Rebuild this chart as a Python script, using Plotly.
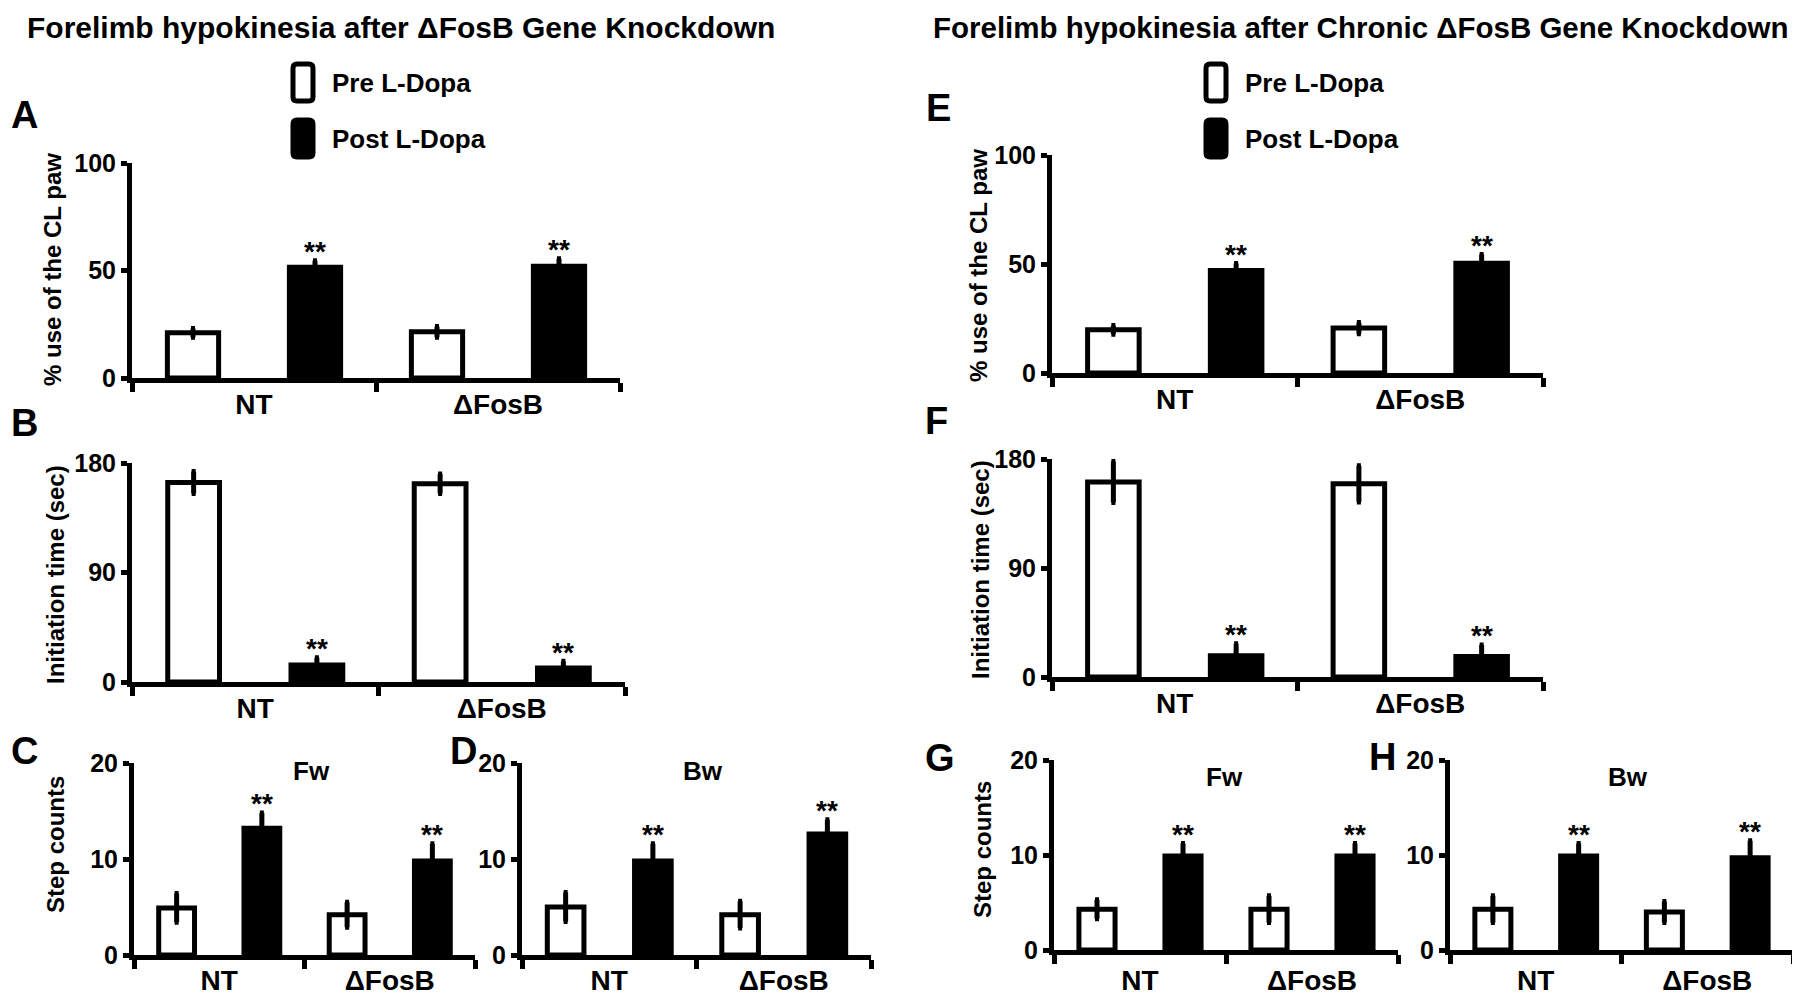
import plotly.graph_objects as go

W, H = 1800, 995
OFF = 8  # page body margin compensation

groups = ["NT", "ΔFosB"]
series_names = ["Pre L-Dopa", "Post L-Dopa"]

# Panel A: % use of the CL paw
a_pre, a_pre_err = [21.0, 21.5], [2.0, 2.5]
a_post, a_post_err = [51.5, 52.0], [3.0, 3.5]
# Panel B: Initiation time (sec)
b_pre, b_pre_err = [164.0, 163.0], [9.0, 8.0]
b_post, b_post_err = [14.0, 11.5], [6.0, 5.5]
# Panel C: Step counts Fw
c_pre, c_pre_err = [4.9, 4.2], [1.5, 1.3]
c_post, c_post_err = [13.2, 9.8], [1.6, 1.8]
# Panel D: Step counts Bw
d_pre, d_pre_err = [5.0, 4.2], [1.5, 1.4]
d_post, d_post_err = [9.8, 12.6], [1.8, 1.5]
# Panel E: % use of the CL paw (chronic)
e_pre, e_pre_err = [19.8, 20.6], [2.0, 2.6]
e_post, e_post_err = [47.0, 50.4], [3.2, 4.0]
# Panel F: Initiation time (sec) (chronic)
f_pre, f_pre_err = [161.0, 159.5], [17.0, 15.0]
f_post, f_post_err = [17.5, 17.0], [10.0, 9.5]
# Panel G: Step counts Fw (chronic)
g_pre, g_pre_err = [4.3, 4.3], [1.0, 1.4]
g_post, g_post_err = [9.9, 9.9], [1.3, 1.3]
# Panel H: Step counts Bw (chronic)
h_pre, h_pre_err = [4.3, 4.0], [1.4, 1.1]
h_post, h_post_err = [9.9, 9.7], [1.3, 1.8]

pct_ticks = [0, 50, 100]
time_ticks = [0, 90, 180]
step_ticks = [0, 10, 20]

FONT = "Liberation Sans, Arial, sans-serif"

def px(x):
    return (x - OFF) / W

def py(y):
    return 1 - (y - OFF) / H

# panel layout (pixel boxes: left, right, top, bottom) and x-label standoff
panels = [
    dict(n=1, pre=a_pre, pe=a_pre_err, post=a_post, qe=a_post_err, ticks=pct_ticks, box=(132, 620, 163, 378), so=-3),
    dict(n=2, pre=b_pre, pe=b_pre_err, post=b_post, qe=b_post_err, ticks=time_ticks, box=(132, 625, 463, 682), so=-3),
    dict(n=3, pre=c_pre, pe=c_pre_err, post=c_post, qe=c_post_err, ticks=step_ticks, box=(134, 475, 763, 955), so=-4),
    dict(n=4, pre=d_pre, pe=d_pre_err, post=d_post, qe=d_post_err, ticks=step_ticks, box=(522, 871, 763, 955), so=-4),
    dict(n=5, pre=e_pre, pe=e_pre_err, post=e_post, qe=e_post_err, ticks=pct_ticks, box=(1052, 1543, 155, 373), so=-3),
    dict(n=6, pre=f_pre, pe=f_pre_err, post=f_post, qe=f_post_err, ticks=time_ticks, box=(1052, 1543, 459, 677), so=-3),
    dict(n=7, pre=g_pre, pe=g_pre_err, post=g_post, qe=g_post_err, ticks=step_ticks, box=(1054, 1398, 760, 950), so=1),
    dict(n=8, pre=h_pre, pe=h_pre_err, post=h_post, qe=h_post_err, ticks=step_ticks, box=(1450, 1793, 760, 950), so=1),
]

fig = go.Figure()
LW = 5
BW = 0.42
ann = []

for p in panels:
    n = p["n"]
    xa = "x" if n == 1 else f"x{n}"
    ya = "y" if n == 1 else f"y{n}"
    xpre = [2 * i + 0.5 for i in range(len(groups))]
    xpost = [2 * i + 1.5 for i in range(len(groups))]
    fig.add_trace(go.Bar(
        x=xpre, y=p["pre"], width=BW, name=series_names[0], xaxis=xa, yaxis=ya,
        marker=dict(color="white", line=dict(color="black", width=LW)),
        error_y=dict(type="data", array=p["pe"], color="black", thickness=5, width=2),
        showlegend=False,
    ))
    fig.add_trace(go.Bar(
        x=xpost, y=p["post"], width=BW, name=series_names[1], xaxis=xa, yaxis=ya,
        marker=dict(color="black", line=dict(color="black", width=LW)),
        error_y=dict(type="data", array=p["qe"], color="black", thickness=5, width=2),
        showlegend=False,
    ))
    for xv, v, e in zip(xpost, p["post"], p["qe"]):
        ann.append(dict(x=xv, y=v + e, xref=xa, yref=ya, text="**", showarrow=False,
                        xanchor="center", yanchor="middle", yshift=9,
                        font=dict(family=FONT, size=28, color="black", weight="bold")))
    l, r, t, b = p["box"]
    sfx = "" if n == 1 else str(n)
    fig.update_layout(**{
        f"xaxis{sfx}": dict(
            domain=[px(l), px(r)], anchor=ya, range=[0, 4], automargin=False,
            tickvals=[1, 3], ticktext=groups, ticks="", ticklabelstandoff=p["so"],
            tickfont=dict(family=FONT, size=28, color="black", weight="bold"),
            showline=True, linewidth=LW, linecolor="black", showgrid=False, zeroline=False,
            minor=dict(tickvals=[0, 2, 4], ticks="outside", ticklen=9, tickwidth=LW, tickcolor="black", showgrid=False),
            fixedrange=True,
        ),
        f"yaxis{sfx}": dict(
            domain=[py(b), py(t)], anchor=xa, range=[0, p["ticks"][-1]], automargin=False,
            tickvals=p["ticks"], ticks="outside", ticklen=6, tickwidth=LW, tickcolor="black",
            tickfont=dict(family=FONT, size=25, color="black", weight="bold"),
            showline=True, linewidth=LW, linecolor="black", showgrid=False, zeroline=False,
            fixedrange=True,
        ),
    })

def text(x, y, s, size, xanchor="center", angle=0, yanchor="middle"):
    ann.append(dict(x=px(x), y=py(y), xref="paper", yref="paper", text=s, showarrow=False,
                    xanchor=xanchor, yanchor=yanchor, textangle=angle,
                    font=dict(family=FONT, size=size, color="black", weight="bold")))

# titles
text(25, 9, "Forelimb hypokinesia after ΔFosB Gene Knockdown", 30, xanchor="left", yanchor="top")
text(931, 9, "Forelimb hypokinesia after Chronic ΔFosB Gene Knockdown", 29.5, xanchor="left", yanchor="top")
# panel letters
for ch, x, y in [("A", 9, 115), ("B", 9, 423), ("C", 9, 751)]:
    text(x, y, ch, 38, xanchor="left")
for ch, x, y in [("D", 463, 751), ("E", 938, 108), ("F", 937, 421), ("G", 940, 758), ("H", 1382, 757)]:
    text(x, y, ch, 38)
# y-axis titles
for s, x, y in [("% use of the CL paw", 52, 270), ("Initiation time (sec)", 55, 575), ("Step counts", 55, 845),
                ("% use of the CL paw", 979, 265), ("Initiation time (sec)", 980, 570), ("Step counts", 982, 850)]:
    text(x, y, s, 24, angle=-90)
# subpanel titles
for s, x, y in [("Fw", 311, 771), ("Bw", 703, 771), ("Fw", 1224, 777), ("Bw", 1628, 777)]:
    text(x, y, s, 26)

# legends
shapes = []
def rbox(x0, y0, x1, y1, fill):
    r = 4
    pts = [("M", x0 + r, y0), ("L", x1 - r, y0), ("Q", x1, y0, x1, y0 + r), ("L", x1, y1 - r),
           ("Q", x1, y1, x1 - r, y1), ("L", x0 + r, y1), ("Q", x0, y1, x0, y1 - r), ("L", x0, y0 + r),
           ("Q", x0, y0, x0 + r, y0)]
    parts = []
    for seg in pts:
        cmd, vals = seg[0], seg[1:]
        coords = []
        for k in range(0, len(vals), 2):
            coords.append(f"{px(vals[k]):.5f},{py(vals[k + 1]):.5f}")
        parts.append(cmd + " " + " ".join(coords))
    shapes.append(dict(type="path", xref="paper", yref="paper", path=" ".join(parts) + " Z",
                       fillcolor=fill, line=dict(color="black", width=5)))

for bx, tx in [(293, 330), (1206, 1243)]:
    rbox(bx, 64, bx + 20, 101, "white")
    rbox(bx, 120, bx + 20, 157, "black")
    text(tx, 83, series_names[0], 26, xanchor="left")
    text(tx, 139, series_names[1], 26, xanchor="left")

fig.update_layout(
    width=W, height=H, margin=dict(l=0, r=0, t=0, b=0, autoexpand=False),
    paper_bgcolor="white", plot_bgcolor="white",
    annotations=ann, shapes=shapes, showlegend=False, barmode="overlay",
)

fig.write_html("out.html")
